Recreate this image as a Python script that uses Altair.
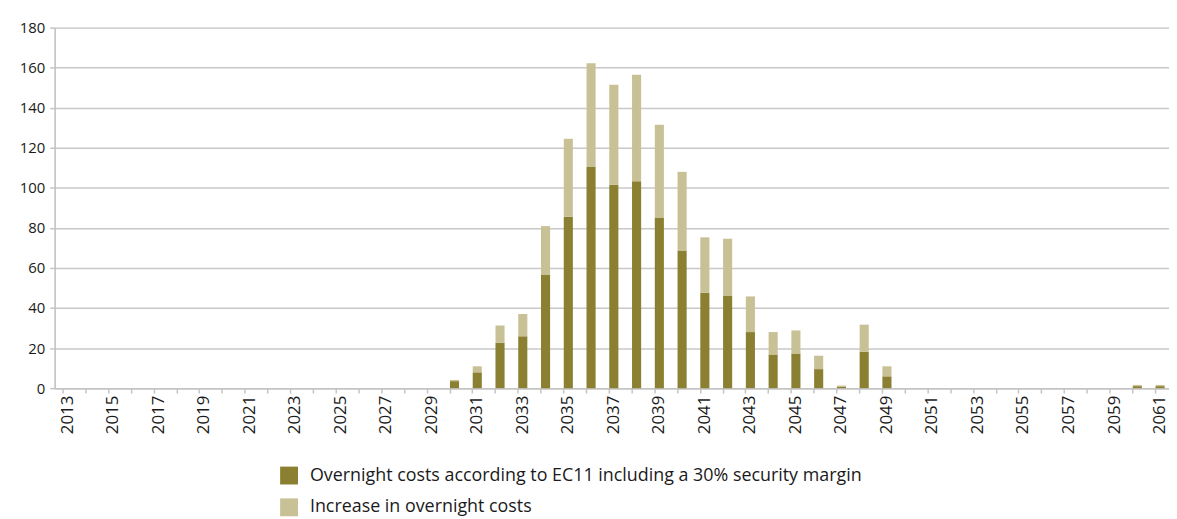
import altair as alt
import pandas as pd

years = list(range(2013, 2062))

# Overnight costs according to EC11 incl. 30% security margin (dark part)
base_vals = {
    2030: 3.5, 2031: 7.9, 2032: 22.6, 2033: 25.9, 2034: 56.5, 2035: 85.5,
    2036: 110.4, 2037: 101.5, 2038: 103.3, 2039: 85.2, 2040: 68.7, 2041: 47.6,
    2042: 46.2, 2043: 28.0, 2044: 16.8, 2045: 17.3, 2046: 9.5, 2047: 0.8,
    2048: 18.2, 2049: 5.9, 2060: 1.0, 2061: 1.0,
}
# Total bar height (dark + light)
total_vals = {
    2030: 4.1, 2031: 10.9, 2032: 31.3, 2033: 37.0, 2034: 80.9, 2035: 124.5,
    2036: 162.2, 2037: 151.5, 2038: 156.5, 2039: 131.5, 2040: 108.0, 2041: 75.3,
    2042: 74.6, 2043: 45.8, 2044: 28.0, 2045: 28.8, 2046: 16.2, 2047: 1.3,
    2048: 31.7, 2049: 10.9, 2060: 1.6, 2061: 1.6,
}

series_names = [
    "Overnight costs according to EC11 including a 30% security margin",
    "Increase in overnight costs",
]
series_colors = ["#8B7F32", "#C9C196"]

rows = []
for y in years:
    b = base_vals.get(y, 0.0)
    t = total_vals.get(y, 0.0)
    rows.append({"year": str(y), "series": series_names[0], "value": b, "ord": 0})
    rows.append({"year": str(y), "series": series_names[1], "value": round(t - b, 2), "ord": 1})
df = pd.DataFrame(rows)

FONT = "Open Sans"

chart = alt.Chart(df).mark_bar().encode(
    x=alt.X(
        "year:N",
        sort=[str(y) for y in years],
        scale=alt.Scale(paddingInner=0.6, paddingOuter=0.28, align=0.656),
        axis=alt.Axis(
            title=None,
            labelAngle=270,
            labelExpr="toNumber(datum.value) % 2 == 1 ? datum.label : ''",
            labelOverlap=False,
            bandPosition=0,
            tickSize=5,
            tickColor="#c4c4c4",
            tickWidth=1.5,
            domainColor="#c4c4c4",
            domainWidth=1.5,
            labelPadding=2,
            labelFontSize=17,
            labelFont=FONT,
            labelColor="#1a1a1a",
            grid=False,
        ),
    ),
    y=alt.Y(
        "value:Q",
        stack="zero",
        scale=alt.Scale(domain=[0, 180], nice=False),
        axis=alt.Axis(
            title=None,
            values=list(range(0, 181, 20)),
            tickSize=5,
            tickColor="#c4c4c4",
            tickWidth=1.5,
            domainColor="#c4c4c4",
            domainWidth=1.5,
            gridColor="#c8c8c8",
            gridWidth=1.5,
            labelPadding=5,
            labelFontSize=15,
            labelFont=FONT,
            labelColor="#1a1a1a",
        ),
    ),
    color=alt.Color(
        "series:N",
        scale=alt.Scale(domain=series_names, range=series_colors),
        legend=alt.Legend(
            title=None,
            orient="none",
            legendX=227,
            legendY=442,
            padding=0,
            symbolType="square",
            symbolSize=324,
            symbolStrokeWidth=0,
            symbolOpacity=1,
            labelFontSize=18,
            labelFont=FONT,
            labelColor="#1a1a1a",
            labelOffset=12,
            rowPadding=14,
            labelLimit=800,
        ),
    ),
    order=alt.Order("ord:Q", sort="ascending"),
).properties(
    width=1122,
    height=363,
    autosize=alt.AutoSizeParams(type="none"),
    padding={"left": 47, "top": 18, "right": 0, "bottom": 130},
).configure_view(stroke=None).configure(background="white")

chart.save("out.html", embed_options={"renderer": "svg", "actions": False})
